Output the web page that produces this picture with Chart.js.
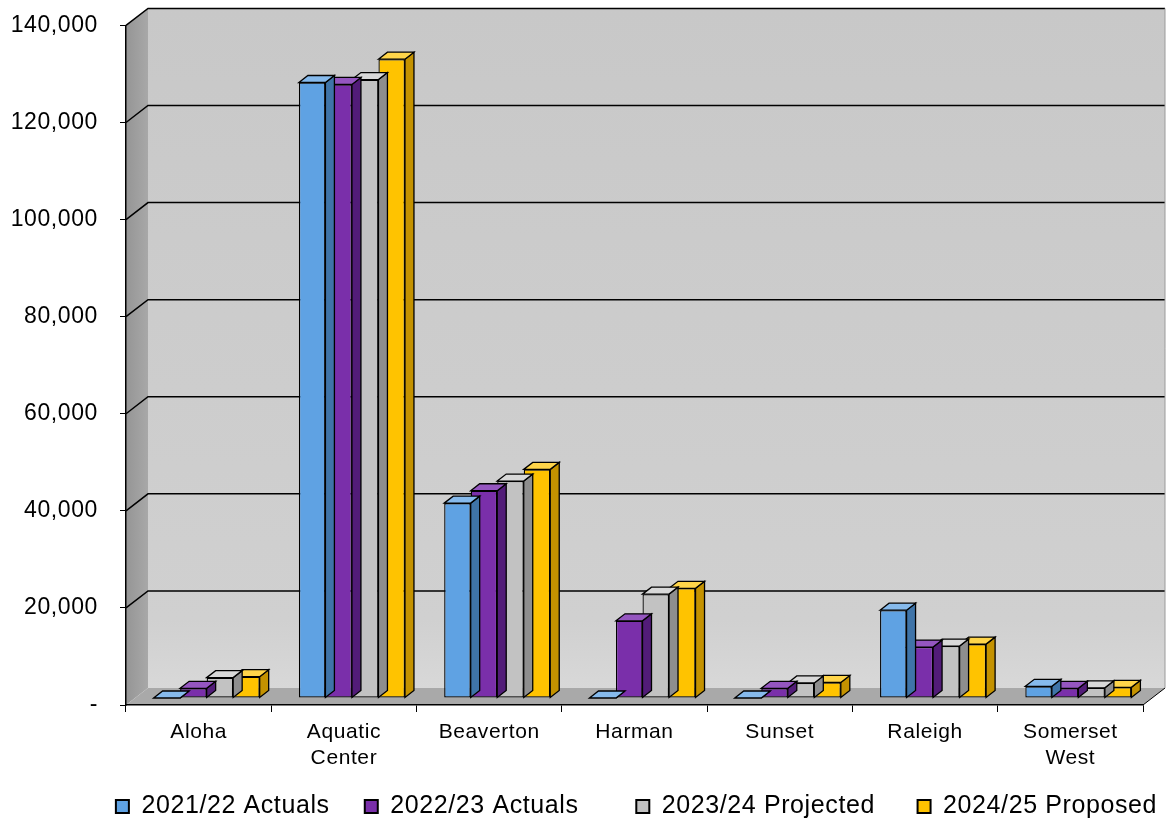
<!DOCTYPE html>
<html>
<head>
<meta charset="utf-8">
<title>Attendance by Center</title>
<script src="https://cdn.jsdelivr.net/npm/chart.js@4.4.1/dist/chart.umd.min.js"></script>
<style>
    html, body { margin: 0; padding: 0; background: #ffffff; }
    #chartWrap { width: 1167px; height: 829px; }
</style>
</head>
<body>
<div id="chartWrap"><canvas id="centersChart" width="1167" height="829"></canvas></div>
<script>
// DATA
const categories = ['Aloha', ['Aquatic', 'Center'], 'Beaverton', 'Harman', 'Sunset', 'Raleigh', ['Somerset', 'West']];
const seriesNames = ['2021/22 Actuals', '2022/23 Actuals', '2023/24 Projected', '2024/25 Proposed'];
const actuals2122 = [0, 126800, 40150, 0, 0, 18100, 2400];
const actuals2223 = [2000, 126400, 42700, 15900, 2000, 10500, 2000];
const projected2324 = [4200, 127400, 44700, 21400, 3100, 10700, 2100];
const proposed2425 = [4400, 131600, 47100, 22600, 3200, 11100, 2200];
const yTicks = [0, 20000, 40000, 60000, 80000, 100000, 120000, 140000];

// colours: front, top, side
const palette = [
    { front: '#5FA2E3', top: '#86BAEC', side: '#3F74A8' },
    { front: '#7A2FAA', top: '#9556C0', side: '#521C78' },
    { front: '#C2C2C2', top: '#D8D8D8', side: '#8E8E8E' },
    { front: '#FFC300', top: '#FFD54A', side: '#C49200' },
];

const FONT = "'Liberation Sans', Arial, sans-serif";
const WALL_DX = 22, WALL_DY = -17;   // depth of the box
const BAR_DX = 8, BAR_DY = -7;       // bars sit half way back
const FACE_DX = 9, FACE_DY = -7;     // depth of a bar
const LEGEND_GAPS = [2, 5, 3, 0];    // extra spaces after each legend entry

function poly(ctx, pts, fill, stroke, lw) {
    ctx.beginPath();
    ctx.moveTo(pts[0][0], pts[0][1]);
    for (let i = 1; i < pts.length; i++) ctx.lineTo(pts[i][0], pts[i][1]);
    ctx.closePath();
    if (fill) { ctx.fillStyle = fill; ctx.fill(); }
    if (stroke) { ctx.strokeStyle = stroke; ctx.lineWidth = lw || 1; ctx.stroke(); }
}

// the source picture has slightly wide lettering
const textPlugin = {
    id: 'wideText',
    afterInit(chart) { chart.ctx.letterSpacing = '0.6px'; },
    beforeUpdate(chart) { chart.ctx.letterSpacing = '0.6px'; },
    beforeDraw(chart) { chart.ctx.letterSpacing = '0.6px'; }
};

// back wall, side wall, floor and grid lines
const wallsPlugin = {
    id: 'walls3d',
    beforeDraw(chart) {
        const ctx = chart.ctx;
        const a = chart.chartArea;
        const y = chart.scales.y;
        ctx.save();

        const g = ctx.createLinearGradient(0, a.top + WALL_DY, 0, a.bottom + WALL_DY);
        g.addColorStop(0, '#C8C8C8');
        g.addColorStop(0.9, '#D0D0D0');
        g.addColorStop(1, '#D8D8D8');
        ctx.fillStyle = g;
        ctx.fillRect(a.left + WALL_DX, a.top + WALL_DY, a.right - a.left, a.bottom - a.top);

        const lg = ctx.createLinearGradient(a.left, 0, a.left + WALL_DX, 0);
        lg.addColorStop(0, '#959595');
        lg.addColorStop(1, '#A8A8A8');
        poly(ctx, [[a.left, a.top], [a.left + WALL_DX, a.top + WALL_DY],
            [a.left + WALL_DX, a.bottom + WALL_DY], [a.left, a.bottom]], lg);

        poly(ctx, [[a.left, a.bottom], [a.left + WALL_DX, a.bottom + WALL_DY],
            [a.right + WALL_DX, a.bottom + WALL_DY], [a.right, a.bottom]], '#A9A9A9');

        ctx.strokeStyle = '#000';
        ctx.lineWidth = 1.5;
        yTicks.forEach(v => {
            if (v === 0) return;
            const py = y.getPixelForValue(v);
            ctx.beginPath();
            ctx.moveTo(a.left, py);
            ctx.lineTo(a.left + WALL_DX, py + WALL_DY);
            ctx.lineTo(a.right + WALL_DX, py + WALL_DY);
            ctx.stroke();
        });

        // right edge of the floor
        ctx.lineWidth = 1;
        ctx.beginPath();
        ctx.moveTo(a.right, a.bottom);
        ctx.lineTo(a.right + WALL_DX, a.bottom + WALL_DY);
        ctx.stroke();
        ctx.strokeStyle = '#9A9A9A';
        ctx.beginPath();
        ctx.moveTo(a.right + WALL_DX, a.top + WALL_DY);
        ctx.lineTo(a.right + WALL_DX, a.bottom + WALL_DY);
        ctx.stroke();
        ctx.restore();
    }
};

// top and side faces of every bar
const barsPlugin = {
    id: 'bars3d',
    beforeDatasetDraw(chart) {
        chart.ctx.save();
        chart.ctx.translate(BAR_DX, BAR_DY);
    },
    afterDatasetDraw(chart, args) {
        const ctx = chart.ctx;
        const col = palette[args.index];
        args.meta.data.forEach(bar => {
            const p = bar.getProps(['x', 'y', 'base', 'width'], true);
            const l = p.x - p.width / 2, r = p.x + p.width / 2;
            poly(ctx, [[r, p.y], [r + FACE_DX, p.y + FACE_DY], [r + FACE_DX, p.base + FACE_DY], [r, p.base]],
                col.side, '#000', 1.3);
            poly(ctx, [[l, p.y], [l + FACE_DX, p.y + FACE_DY], [r + FACE_DX, p.y + FACE_DY], [r, p.y]],
                col.top, '#000', 1.3);
        });
        ctx.restore();
    }
};

const seriesValues = [actuals2122, actuals2223, projected2324, proposed2425];

const ctx = document.getElementById('centersChart').getContext('2d');
const centersChart = new Chart(ctx, {
    type: 'bar',
    data: {
        labels: categories,
        datasets: seriesNames.map((name, i) => ({
            label: name,
            data: seriesValues[i],
            backgroundColor: palette[i].front,
            borderColor: '#000',
            borderWidth: 1.3,
            borderSkipped: false,
            categoryPercentage: 0.73,
            barPercentage: 1.0,
            clip: false,
        }))
    },
    options: {
        responsive: false,
        animation: false,
        devicePixelRatio: 1,
        layout: {
            padding: { top: 14, left: 0, right: -10, bottom: 0 }
        },
        plugins: {
            legend: {
                position: 'bottom',
                align: 'end',
                labels: {
                    color: '#000',
                    font: { family: FONT, size: 25 },
                    boxWidth: 13,
                    boxHeight: 13,
                    padding: 20,
                    generateLabels: function (chart) {
                        return Chart.defaults.plugins.legend.labels.generateLabels(chart).map((item, i) => {
                            item.text = item.text + ' '.repeat(LEGEND_GAPS[i]);
                            item.lineWidth = 2;
                            item.strokeStyle = '#000';
                            return item;
                        });
                    }
                }
            },
            tooltip: { enabled: false }
        },
        scales: {
            x: {
                grid: {
                    display: true,
                    drawOnChartArea: false,
                    drawTicks: true,
                    tickLength: 7,
                    color: '#000',
                    offset: true
                },
                border: { display: true, color: '#000', width: 1.5 },
                ticks: {
                    color: '#000',
                    font: { family: FONT, size: 21 },
                    padding: 8,
                    maxRotation: 0,
                    autoSkip: false
                },
                afterFit: function (scale) { scale.height = 69; }
            },
            y: {
                min: 0,
                max: 140000,
                grid: {
                    display: true,
                    drawOnChartArea: false,
                    drawTicks: true,
                    tickLength: 6,
                    color: '#000'
                },
                border: { display: true, color: '#000', width: 1.5 },
                ticks: {
                    stepSize: 20000,
                    color: '#000',
                    font: { family: FONT, size: 23, lineHeight: 0.3 },
                    padding: 22,
                    callback: function (value) {
                        return value === 0 ? '-' : value.toLocaleString('en-US');
                    }
                },
                afterFit: function (scale) { scale.width = 126; }
            },
            yRight: {
                position: 'right',
                display: true,
                grid: { display: false, drawTicks: false },
                border: { display: false },
                ticks: { display: false },
                afterFit: function (scale) { scale.width = 34; }
            }
        }
    },
    plugins: [textPlugin, wallsPlugin, barsPlugin]
});
</script>
</body>
</html>
